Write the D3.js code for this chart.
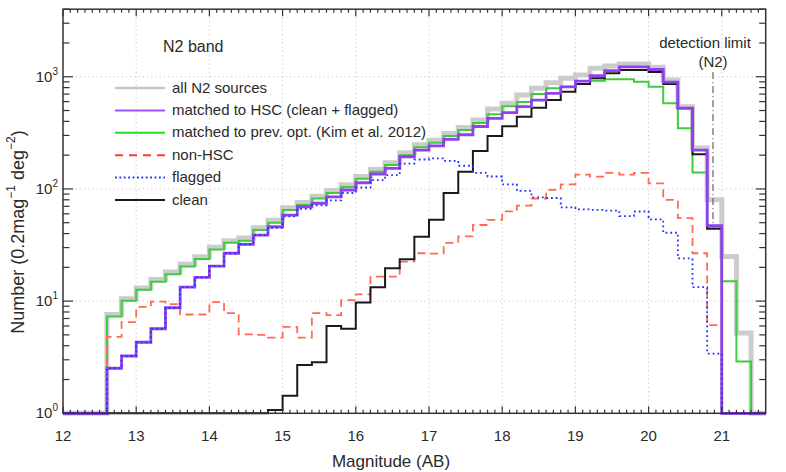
<!DOCTYPE html>
<html>
<head>
<meta charset="utf-8">
<script src="https://cdn.jsdelivr.net/npm/d3@7"></script>
<style>
  html, body { margin: 0; padding: 0; background: #fff; }
  svg { display: block; font-family: "Liberation Sans", Arial, Helvetica, sans-serif; }
</style>
</head>
<body>
<svg id="chart" width="786" height="472"></svg>
<script>
// ---- data (bin left edges, 0.2 mag bins) ----
const binStarts = [12.6,12.8,13.0,13.2,13.4,13.6,13.8,14.0,14.2,14.4,14.6,14.8,15.0,15.2,15.4,15.6,15.8,16.0,16.2,16.4,16.6,16.8,17.0,17.2,17.4,17.6,17.8,18.0,18.2,18.4,18.6,18.8,19.0,19.2,19.4,19.6,19.8,20.0,20.2,20.4,20.6,20.8,21.0,21.2];
const binWidth = 0.2;

const allSources = [7.6,10.5,13.1,15.6,18.2,21.3,24.8,30.2,34.6,36.5,45,52.5,68,75.5,86,97,109,129,149,171,210,247,272,312,352,411,515,580,687,788,885,968,1036,1188,1245,1297,1297,1213,935,541,232,80,25,5.2];
const matchedHSC = [2.52,3.24,4.3,5.67,8.73,13.3,16.3,20.5,26.7,32.1,38.8,46,58.5,69.4,74.5,85,97.8,113.5,135.8,152.6,193.6,222,242,277,304,360,426,478,541,618,711,812,915,1025,1135,1222,1222,1160,895,525,222,47,0,0];
const matchedPrev = [7.3,10.1,12.6,14.9,17.4,20.3,23.7,28.9,33.1,34.5,43,50,65,72,82,92,104,123,142,163,200,235,258,297,335,386,462,545,595,700,788,815,861,922,948,948,902,815,580,347,140,44,15,2.9];
const nonHSC = [4.8,6.5,8.9,9.9,9.4,7.6,7.6,9.8,7.8,5.06,5.0,4.72,5.9,4.72,7.8,7.5,10.2,11.5,16.5,16.5,22.5,26.7,26.5,33,37.7,47.7,53,63,71,82,98,110,134,128.5,139,134,139,112,80,55,26.7,6.1,0,0];
const flagged = [2.52,3.24,4.3,5.67,8.73,13.3,16.3,20.5,26.7,32.1,38.8,45,57,66.5,71.5,79,92,103,120,133,168,183,187,178,161,139,129,110,96,84,83,68.5,65.8,65,64,57.3,62.9,53.6,40.7,24,13.3,3.4,0,0];
const clean = [0,0,0,0,0,0,0,0,0,0,0,1.07,1.43,2.7,2.85,6.0,5.67,9.7,13.3,19.6,23.6,37.5,53,92,142,218,296,362,440,530,621,735,861,968,1072,1150,1150,1100,861,523,204,44.5,0,0];

const legendLabels = ["all N2 sources","matched to HSC (clean + flagged)","matched to prev. opt. (Kim et al. 2012)","non-HSC","flagged","clean"];
const xTicks = [12,13,14,15,16,17,18,19,20,21];
const yTicks = [1,10,100,1000];
const yTickExp = ["0","1","2","3"];
const xDomain = [12, 21.6];
const yDomain = [1, 4000];
const detLimitMag = 20.88;
const detLineValues = [46, 1100];

// ---- layout ----
const W = 786, H = 472;
const m = {left: 63, right: 20.3, top: 9.2, bottom: 58.7};
const svg = d3.select("#chart");
const x = d3.scaleLinear().domain(xDomain).range([m.left, W - m.right]);
const y = d3.scaleLog().domain(yDomain).range([H - m.bottom, m.top]);
const x0 = x.range()[0], x1 = x.range()[1], yb = y.range()[0], yt = y.range()[1];
const textColor = "#2a2a2a";

// gridlines
const grid = svg.append("g").attr("stroke", "#c8c8c8").attr("stroke-width", 1).attr("stroke-dasharray", "1.2,3");
xTicks.filter(t => t > xDomain[0]).forEach(t => {
  grid.append("line").attr("x1", x(t)).attr("x2", x(t)).attr("y1", yb).attr("y2", yt);
});
yTicks.filter(t => t > yDomain[0]).forEach(t => {
  grid.append("line").attr("x1", x0).attr("x2", x1).attr("y1", y(t)).attr("y2", y(t));
});

// series builder (step histogram with zeros on floor)
function steps(vals) {
  const pts = [{m: xDomain[0], v: 0}];
  binStarts.forEach((b, i) => pts.push({m: b, v: vals[i]}));
  pts.push({m: binStarts[binStarts.length - 1] + binWidth, v: 0});
  pts.push({m: xDomain[1], v: 0});
  return pts;
}
const line = d3.line()
  .x(d => x(d.m))
  .y(d => y(Math.max(d.v, yDomain[0])))
  .curve(d3.curveStepAfter);

const series = [
  {vals: allSources, color: "#cccccc", width: 5, dash: null, leg: "#c4c4c4"},
  {vals: matchedPrev, color: "#3dcc3d", width: 2, dash: null, leg: "#22dd22"},
  {vals: nonHSC, color: "#ff6a55", width: 1.8, dash: "8,5", leg: "#ff3b30"},
  {vals: clean, color: "#1a1a1a", width: 2, dash: null, leg: "#1a1a1a"},
  {vals: matchedHSC, color: "#9040ee", width: 2.8, dash: null, leg: "#a050ff"},
  {vals: flagged, color: "#2233ff", width: 1.8, dash: "1.8,3", leg: "#2233ff"}
];
const plot = svg.append("g");
series.forEach(s => {
  plot.append("path").datum(steps(s.vals))
    .attr("d", line).attr("fill", "none")
    .attr("stroke", s.color).attr("stroke-width", s.width)
    .attr("stroke-dasharray", s.dash).attr("stroke-linejoin", "miter");
});

// detection limit
svg.append("line")
  .attr("x1", x(detLimitMag)).attr("x2", x(detLimitMag))
  .attr("y1", y(detLineValues[1])).attr("y2", y(detLineValues[0]))
  .attr("stroke", "#444").attr("stroke-width", 1).attr("stroke-dasharray", "7,3,1,3");
svg.append("text").attr("x", x(detLimitMag) - 8).attr("y", 42.5)
  .attr("text-anchor", "middle").attr("dominant-baseline", "central")
  .attr("font-size", 15).attr("fill", textColor).text("detection limit");
svg.append("text").attr("x", x(detLimitMag)).attr("y", 61.5)
  .attr("text-anchor", "middle").attr("dominant-baseline", "central")
  .attr("font-size", 15).attr("fill", textColor).text("(N2)");

// frame and ticks
const ax = svg.append("g").attr("stroke", "#333").attr("stroke-width", 1.2);
d3.range(120, 216).map(k => k / 10).forEach(t => {
  const major = Math.abs(t - Math.round(t)) < 1e-6;
  const len = major ? 7 : 3.5;
  ax.append("line").attr("x1", x(t)).attr("x2", x(t)).attr("y1", yb).attr("y2", yb - len);
  ax.append("line").attr("x1", x(t)).attr("x2", x(t)).attr("y1", yt).attr("y2", yt + len);
});
y.ticks(40).filter(t => t >= yDomain[0] && t <= yDomain[1]).forEach(t => {
  const major = yTicks.includes(t);
  const len = major ? 10 : 6.5;
  ax.append("line").attr("x1", x0).attr("x2", x0 + len).attr("y1", y(t)).attr("y2", y(t));
  ax.append("line").attr("x1", x1).attr("x2", x1 - len).attr("y1", y(t)).attr("y2", y(t));
});
svg.append("rect").attr("x", x0).attr("y", yt).attr("width", x1 - x0).attr("height", yb - yt)
  .attr("fill", "none").attr("stroke", "#333").attr("stroke-width", 1.5);

// tick labels
xTicks.forEach(t => {
  svg.append("text").attr("x", x(t)).attr("y", yb + 22)
    .attr("text-anchor", "middle").attr("dominant-baseline", "central")
    .attr("font-size", 15).attr("fill", textColor).text(t);
});
yTicks.forEach((t, i) => {
  const tx = svg.append("text").attr("x", x0 - 5).attr("y", y(t) + 5)
    .attr("text-anchor", "end").attr("font-size", 15).attr("fill", textColor);
  tx.append("tspan").text("10");
  tx.append("tspan").attr("dy", -7).attr("font-size", 10).text(yTickExp[i]);
});

// axis titles
svg.append("text").attr("x", 391).attr("y", 461)
  .attr("text-anchor", "middle").attr("dominant-baseline", "central")
  .attr("font-size", 17).attr("fill", textColor).text("Magnitude (AB)");
const yt2 = svg.append("text").attr("transform", "translate(18,232) rotate(-90)")
  .attr("text-anchor", "middle").attr("dominant-baseline", "central")
  .attr("font-size", 18).attr("fill", textColor);
yt2.append("tspan").text("Number (0.2mag");
yt2.append("tspan").attr("dy", -7).attr("font-size", 12).text("\u22121");
yt2.append("tspan").attr("dy", 7).text(" deg");
yt2.append("tspan").attr("dy", -7).attr("font-size", 12).text("\u22122");
yt2.append("tspan").attr("dy", 7).text(")");

// legend
svg.append("text").attr("x", 163).attr("y", 46)
  .attr("dominant-baseline", "central").attr("font-size", 16).attr("fill", textColor).text("N2 band");
const legendOrder = [0, 4, 1, 2, 5, 3];
legendLabels.forEach((lab, i) => {
  const s = series[legendOrder[i]];
  const ly = 87 + i * 22.4;
  svg.append("line").attr("x1", 115).attr("x2", 165).attr("y1", ly + 1).attr("y2", ly + 1)
    .attr("stroke", s.leg).attr("stroke-width", i === 0 ? 2.5 : 2)
    .attr("stroke-dasharray", s.dash ? (s.dash === "8,5" ? "8,6" : "1.8,2.6") : null);
  svg.append("text").attr("x", 172).attr("y", ly)
    .attr("dominant-baseline", "central").attr("font-size", 15).attr("fill", textColor).text(lab);
});
</script>
</body>
</html>
